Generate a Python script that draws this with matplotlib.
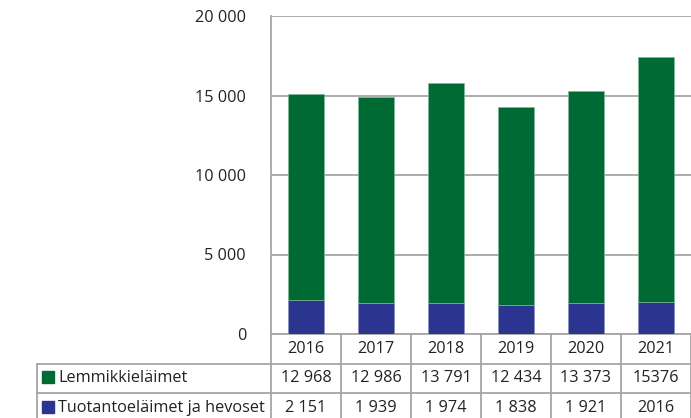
import matplotlib.pyplot as plt
from matplotlib.transforms import blended_transform_factory

plt.rcParams['font.family'] = ['Open Sans', 'DejaVu Sans']

years = ['2016', '2017', '2018', '2019', '2020', '2021']
pets = [12968, 12986, 13791, 12434, 13373, 15376]
farm = [2151, 1939, 1974, 1838, 1921, 2016]
pets_txt = ['12 968', '12 986', '13 791', '12 434', '13 373', '15376']
farm_txt = ['2 151', '1 939', '1 974', '1 838', '1 921', '2016']
series = ['Lemmikkieläimet', 'Tuotantoeläimet ja hevoset']
green = '#006a35'
blue = '#2b3590'
grid_c = '#a6a6a6'
fs = 11.7

W, H = 691, 418
fig = plt.figure(figsize=(W / 100, H / 100), dpi=100)
ax = fig.add_axes([271 / W, 1 - 334 / H, 1 - 271 / W, (334 - 16) / H])

x = list(range(len(years)))
ax.bar(x, farm, width=0.52, color=blue, edgecolor='#8890c0', linewidth=0.5, zorder=3)
ax.bar(x, pets, width=0.52, bottom=farm, color=green, edgecolor='#7fb896',
       linewidth=0.5, zorder=3)

ax.set_xlim(-0.5, len(years) - 0.5)
ax.set_ylim(0, 20000)
ax.set_yticks(range(0, 20001, 5000))
ax.set_yticklabels([f'{v:,}'.replace(',', ' ') for v in range(0, 20001, 5000)])
ax.tick_params(axis='y', length=0, pad=18, labelsize=fs, labelcolor='#222222')
ax.set_xticks([])
ax.yaxis.grid(True, color=grid_c, linewidth=1.3, zorder=0)
for s in ['top', 'right']:
    ax.spines[s].set_visible(False)
for s in ['left', 'bottom']:
    ax.spines[s].set_color(grid_c)
    ax.spines[s].set_linewidth(1.3)

# data table below the axis
tr = blended_transform_factory(ax.transData, ax.transAxes)
ph = (334 - 16)
rows = [(334 - 334) / ph, (364 - 334) / ph, (393 - 334) / ph, (423 - 334) / ph]
rows = [-r for r in rows]
left = -0.5 - (271 - 37) / (420 / 6)
lk = dict(color=grid_c, linewidth=1.3, transform=tr, clip_on=False)

for b in [i - 0.5 for i in range(len(years) + 1)]:
    ax.plot([b, b], [rows[0], rows[3]], **lk)
for r in rows[1:]:
    ax.plot([left, len(years) - 0.5], [r, r], **lk)
ax.plot([left, left], [rows[1], rows[3]], **lk)

tk = dict(transform=tr, ha='center', va='center', fontsize=fs, color='#222222')
for i, y in enumerate(years):
    ax.text(i, (rows[0] + rows[1]) / 2, y, **tk)
    ax.text(i, (rows[1] + rows[2]) / 2, pets_txt[i], **tk)
    ax.text(i, (rows[2] + rows[3]) / 2, farm_txt[i], **tk)

for k, (name, col) in enumerate(zip(series, [green, blue])):
    yc = (rows[1 + k] + rows[2 + k]) / 2
    ax.plot([left + 0.16], [yc + 0.004], marker='s', markersize=8, color=col,
            linestyle='none', transform=tr, clip_on=False)
    ax.text(left + 0.30, yc, name, transform=tr, ha='left', va='center',
            fontsize=fs, color='#222222')

fig.savefig('out.png', dpi=100)
